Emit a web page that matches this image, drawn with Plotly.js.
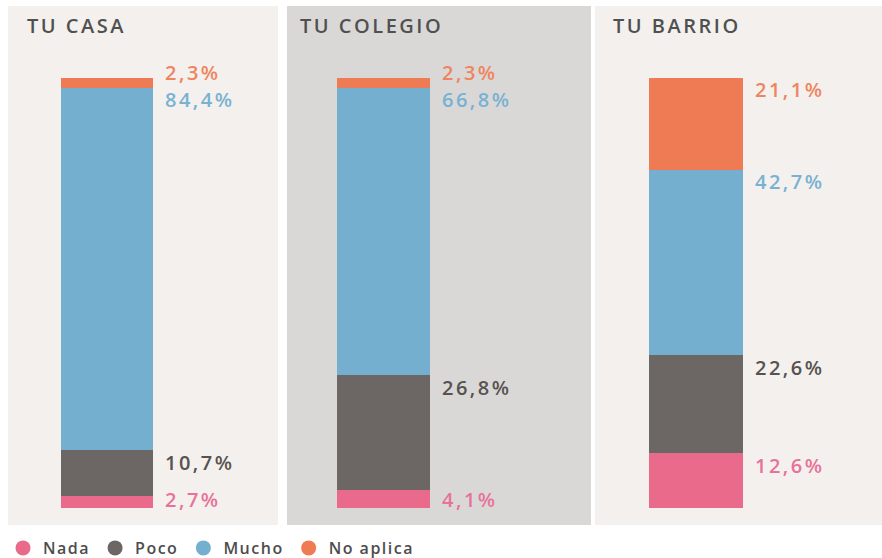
<!DOCTYPE html>
<html>
<head>
<meta charset="utf-8">
<script src="https://cdn.plot.ly/plotly-3.0.1.min.js"></script>
<style>
  html, body { margin: 0; padding: 0; background: #ffffff; }
  #chart { width: 882px; height: 558px; }
  .annotation-text { letter-spacing: 2.5px; }
  .legendtext { letter-spacing: 1.5px; }
</style>
</head>
<body>
<div id="chart"></div>
<script>
// ---- data ----
const panels = ["TU CASA", "TU COLEGIO", "TU BARRIO"];
const seriesNames = ["Nada", "Poco", "Mucho", "No aplica"];
const nada     = [2.7, 4.1, 12.6];
const poco     = [10.7, 26.8, 22.6];
const mucho    = [84.4, 66.8, 42.7];
const noAplica = [2.3, 2.3, 21.1];

// ---- styling ----
const W = 882, H = 558;
const barColors  = ["#ea6a8b", "#6c6764", "#74afcf", "#ee7b53"];
const textColors = ["#e8729a", "#57524f", "#78b2d3", "#ef8560"];
const panelBoxes = [ [8, 278, "#f3f0ed"], [287, 591, "#d9d8d7"], [595, 882, "#f3f0ed"] ];
const panelTop = 6, panelBottom = 525;
const barPx = [ [61, 153], [337, 430], [649, 743] ];
const barTopPx = 78, barBotPx = 508;
const titleX = [25, 298, 611];

const seriesVals = [nada, poco, mucho, noAplica];
const px = v => v / W;
const py = v => 1 - v / H;

const traces = [];
const layout = {
  width: W, height: H,
  margin: {l: 0, r: 0, t: 0, b: 0, autoexpand: false},
  paper_bgcolor: "#ffffff",
  plot_bgcolor: "rgba(0,0,0,0)",
  barmode: "stack",
  barnorm: "percent",
  bargap: 0,
  showlegend: true,
  legend: {
    orientation: "h", x: px(3), y: py(548), xanchor: "left", yanchor: "middle",
    traceorder: "normal",
    font: {family: "Open Sans", size: 16, color: "#4d4d4d", weight: 600},
    bgcolor: "rgba(0,0,0,0)", itemwidth: 30, tracegroupgap: 0
  },
  shapes: [],
  annotations: [],
  font: {family: "Open Sans"}
};

const plotHpx = barBotPx - barTopPx;

panels.forEach((name, p) => {
  const ax = p === 0 ? "" : String(p + 1);
  const xk = "xaxis" + ax, yk = "yaxis" + ax;
  layout[xk] = {
    domain: [px(barPx[p][0]), px(barPx[p][1])], range: [-0.5, 0.5],
    visible: false, fixedrange: true, anchor: "y" + ax
  };
  layout[yk] = {
    domain: [py(barBotPx), py(barTopPx)], range: [0, 100],
    visible: false, fixedrange: true, anchor: "x" + ax
  };
  layout.shapes.push({
    type: "rect", xref: "paper", yref: "paper", layer: "below",
    x0: px(panelBoxes[p][0]), x1: px(panelBoxes[p][1]),
    y0: py(panelBottom), y1: py(panelTop),
    fillcolor: panelBoxes[p][2], line: {width: 0}
  });
  layout.annotations.push({
    xref: "paper", yref: "paper", x: px(titleX[p]), y: py(25),
    xanchor: "left", yanchor: "middle", showarrow: false, text: name,
    font: {family: "Open Sans", size: 20, color: "#505050", weight: 600}
  });

  const total = seriesVals.reduce((s, arr) => s + arr[p], 0);
  seriesVals.forEach((arr, s) => {
    traces.push({
      type: "bar", x: [0], y: [arr[p]], width: [1],
      xaxis: "x" + ax, yaxis: "y" + ax,
      marker: {color: barColors[s], line: {width: 0}},
      name: seriesNames[s], showlegend: false, hoverinfo: "skip"
    });
  });
  // label positions: from top of each stacked segment, avoiding overlaps
  let cum = 0;
  const tops = [];
  seriesVals.forEach((arr) => { cum += arr[p] / total * 100; tops.push(cum); });
  const offs = tops.map(t => Math.min((100 - t) / 100 * plotHpx + 12, plotHpx - 8.5));
  for (let s = 1; s < offs.length; s++) {
    if (offs[s] > offs[s - 1] - 27) offs[s] = offs[s - 1] - 27;
  }
  seriesVals.forEach((arr, s) => {
    layout.annotations.push({
      xref: "x" + ax, yref: "paper", x: 0.5, y: py(barTopPx + offs[s]),
      xanchor: "left", yanchor: "middle", xshift: 11, showarrow: false,
      borderpad: 0,
      text: arr[p].toFixed(1).replace(".", ",") + "%",
      font: {family: "Open Sans", size: 20, color: textColors[s], weight: 600}
    });
  });
});

// legend entries (circles)
seriesNames.forEach((n, s) => {
  traces.push({
    type: "scatter", mode: "markers", x: [null], y: [null],
    name: n, marker: {symbol: "circle", size: 15, color: barColors[s]},
    showlegend: true, hoverinfo: "skip"
  });
});

Plotly.newPlot("chart", traces, layout, {displayModeBar: false, staticPlot: true});
</script>
</body>
</html>
